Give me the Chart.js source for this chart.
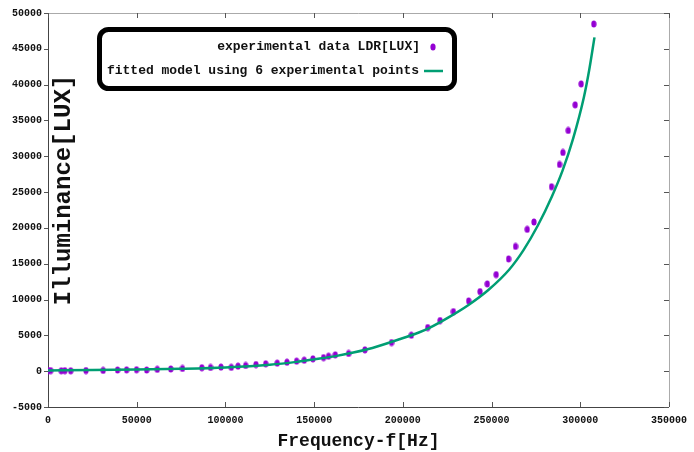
<!DOCTYPE html>
<html>
<head>
<meta charset="utf-8">
<script src="https://cdn.jsdelivr.net/npm/chart.js@4/dist/chart.umd.min.js"></script>
<style>
  html, body { margin: 0; padding: 0; background: #fff; }
  #wrap { width: 694px; height: 452px; }
</style>
</head>
<body>
<div id="wrap"><canvas id="chart"></canvas></div>
<script>
// measured points (frequency in Hz, illuminance in lux)
const freqHz = [0, 1500, 7500, 9500, 12800, 21400, 31100, 39200, 44300, 49900,
  55600, 61600, 69200, 75800, 86700, 91600, 97500, 103300, 107100, 111400,
  117200, 122700, 129200, 134700, 140100, 144400, 149300, 155300, 158100, 161900,
  169400, 178600, 193600, 204800, 214000, 221000, 228500, 237100, 243500, 247600,
  252600, 259600, 263500, 270100, 273900, 283800, 288300, 290200, 293200, 297100,
  300500, 307600];
const luxMeasured = [80, 80, 60, 70, 60, 90, 110, 170, 190, 200,
  170, 260, 310, 380, 480, 520, 570, 540, 700, 800,
  930, 1030, 1120, 1250, 1400, 1530, 1720, 1900, 2090, 2280,
  2470, 2980, 4000, 5020, 6090, 7070, 8320, 9810, 11110, 12180,
  13480, 15670, 17420, 19800, 20830, 25750, 28860, 30530, 33600, 37180,
  40100, 48470];

// fitted curve
const fitHz = [0, 25000, 50000, 75000, 100000, 125000, 140000, 150000, 162000, 180000,
  198000, 209000, 215000, 226000, 237000, 248000, 260000, 268000, 276000, 284000,
  290000, 296000, 302000, 305000, 308000];
const fitLux = [100, 150, 220, 330, 520, 900, 1300, 1650, 2100, 3050,
  4450, 5400, 6050, 7550, 9250, 11300, 14200, 16900, 20300, 24400,
  28000, 32500, 38200, 42000, 46600];

const xTicks = [0, 50000, 100000, 150000, 200000, 250000, 300000, 350000];
const yTicks = [-5000, 0, 5000, 10000, 15000, 20000, 25000, 30000, 35000, 40000, 45000, 50000];

const seriesLabels = ['experimental data LDR[LUX]', 'fitted model using 6 experimental points'];
const xTitle = 'Frequency-f[Hz]';
const yTitle = 'Illuminance[LUX]';

const MONO = '"Liberation Mono", "DejaVu Sans Mono", monospace';
const PURPLE = '#9400d3';
const GREEN = '#009e73';

// small upright ellipse like the gnuplot dots
function dotImage() {
  const c = document.createElement('canvas');
  c.width = 6; c.height = 8;
  const g = c.getContext('2d');
  g.fillStyle = PURPLE;
  g.beginPath();
  g.ellipse(3, 4, 2.6, 3.5, 0, 0, Math.PI * 2);
  g.fill();
  return c;
}

const frame = {
  id: 'frame',
  afterDraw(chart) {
    const { ctx, chartArea: a, scales: { x, y } } = chart;
    ctx.save();

    // top / right border
    ctx.strokeStyle = '#aaa';
    ctx.lineWidth = 1;
    ctx.beginPath();
    ctx.moveTo(a.left, a.top + 0.5);
    ctx.lineTo(a.right + 0.5, a.top + 0.5);
    ctx.lineTo(a.right + 0.5, a.bottom);
    ctx.stroke();

    // ticks
    ctx.strokeStyle = '#555';
    ctx.beginPath();
    xTicks.forEach(v => {
      const px = Math.round(x.getPixelForValue(v)) + 0.5;
      ctx.moveTo(px, a.bottom); ctx.lineTo(px, a.bottom - 5);
      ctx.moveTo(px, a.top); ctx.lineTo(px, a.top + 5);
    });
    yTicks.forEach(v => {
      const py = Math.round(y.getPixelForValue(v)) + 0.5;
      ctx.moveTo(a.left - 4, py); ctx.lineTo(a.left, py);
      ctx.moveTo(a.right, py); ctx.lineTo(a.right - 5, py);
    });
    ctx.stroke();

    // y title sits inside the plot
    ctx.fillStyle = '#111';
    ctx.font = 'bold 24px ' + MONO;
    ctx.textAlign = 'center';
    ctx.textBaseline = 'middle';
    ctx.translate(64, 190);
    ctx.rotate(-Math.PI / 2);
    ctx.fillText(yTitle, 0, 0);
    ctx.restore();

    // legend box
    ctx.save();
    ctx.lineWidth = 5;
    ctx.strokeStyle = '#000';
    ctx.beginPath();
    ctx.roundRect(99.5, 29.5, 355, 59, 9);
    ctx.stroke();
    ctx.font = 'bold 13px ' + MONO;
    ctx.fillStyle = '#111';
    ctx.textAlign = 'right';
    ctx.textBaseline = 'middle';
    ctx.fillText(seriesLabels[0], 420, 47);
    ctx.fillText(seriesLabels[1], 419, 71);
    ctx.drawImage(dotImage(), 430, 43);
    ctx.strokeStyle = GREEN;
    ctx.lineWidth = 2.5;
    ctx.beginPath();
    ctx.moveTo(424, 71); ctx.lineTo(443, 71);
    ctx.stroke();
    ctx.restore();
  }
};

new Chart(document.getElementById('chart').getContext('2d'), {
  type: 'scatter',
  data: {
    datasets: [{
      label: seriesLabels[0],
      data: freqHz.map((f, i) => ({ x: f, y: luxMeasured[i] })),
      pointStyle: dotImage(),
      pointRadius: 3,
      showLine: false,
      order: 2,
    }, {
      label: seriesLabels[1],
      data: fitHz.map((f, i) => ({ x: f, y: fitLux[i] })),
      showLine: true,
      borderColor: GREEN,
      borderWidth: 2.5,
      pointRadius: 0,
      cubicInterpolationMode: 'monotone',
      order: 1,
    }]
  },
  options: {
    responsive: true,
    maintainAspectRatio: false,
    animation: false,
    layout: { padding: { top: 13, right: 24, left: 0, bottom: 0 } },
    plugins: { legend: { display: false }, tooltip: { enabled: false } },
    scales: {
      x: {
        type: 'linear',
        min: 0, max: 350000,
        afterBuildTicks: s => { s.ticks = xTicks.map(v => ({ value: v })); },
        afterFit: s => { s.height = 45; },
        grid: { display: false, drawTicks: false },
        border: { display: true, color: '#444', width: 1 },
        ticks: {
          padding: 7, color: '#111', maxRotation: 0,
          font: { family: MONO, size: 10, weight: 'bold' },
          callback: v => String(v),
        },
        title: {
          display: true, text: xTitle, color: '#111',
          font: { family: MONO, size: 18, weight: 'bold' },
          padding: { top: 2, bottom: 0 },
        },
      },
      y: {
        type: 'linear',
        min: -5000, max: 50000,
        afterBuildTicks: s => { s.ticks = yTicks.map(v => ({ value: v })); },
        afterFit: s => { s.width = 48; },
        grid: { display: false, drawTicks: false },
        border: { display: true, color: '#444', width: 1 },
        ticks: {
          padding: 6, color: '#111',
          font: { family: MONO, size: 10, weight: 'bold' },
          callback: v => String(v),
        },
      },
    },
  },
  plugins: [frame],
});
</script>
</body>
</html>
